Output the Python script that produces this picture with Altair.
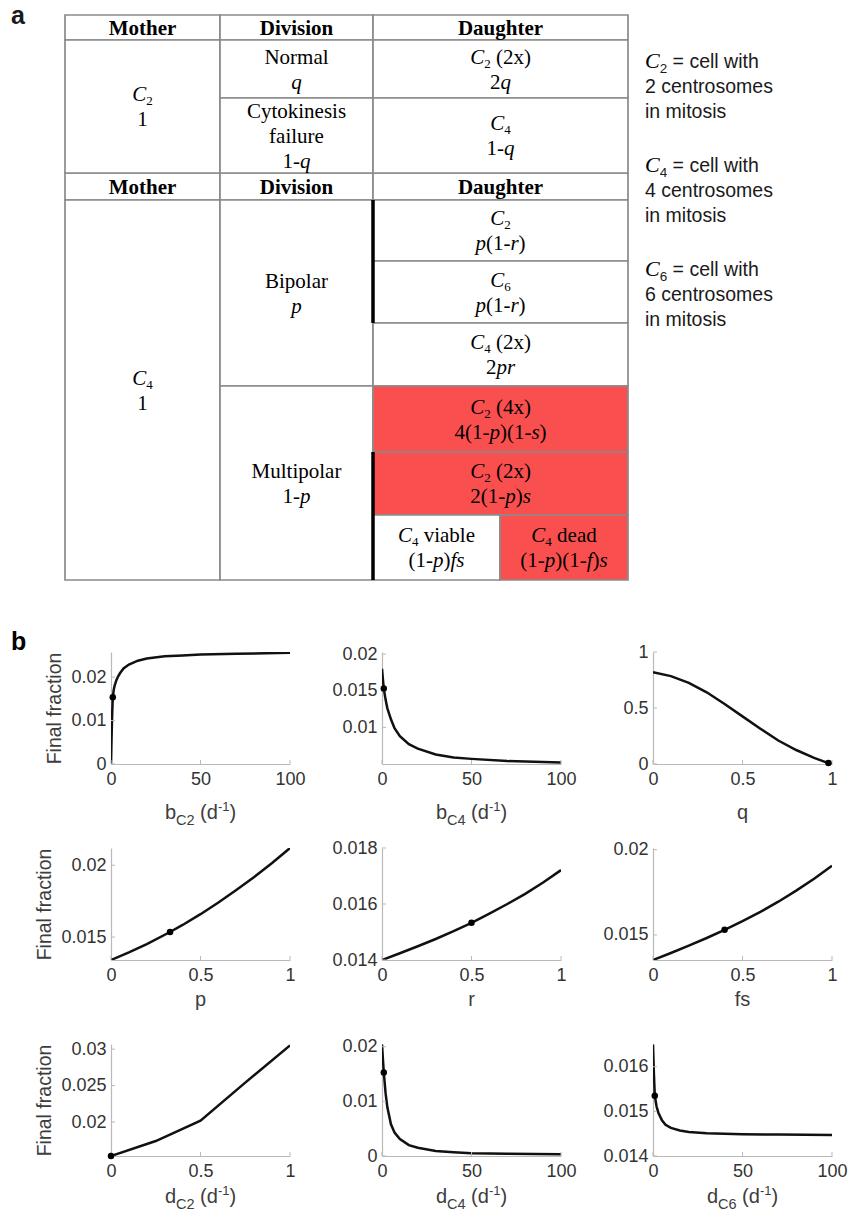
import re
import altair as alt
import pandas as pd

# ---------------- panel b : values ----------------
bc2_x = [0, 0.25, 0.5, 0.75, 1, 1.5, 2, 3, 4, 5, 7, 10, 15, 20, 30, 40, 50, 70, 100]
bc2_y = [0, 0.0050, 0.0092, 0.0126, 0.0153, 0.0170, 0.0180, 0.0193, 0.0202, 0.0209, 0.0220,
         0.0229, 0.0238, 0.0243, 0.0248, 0.0250, 0.0252, 0.0254, 0.0256]

bc4_x = [0, 0.5, 1, 2, 3, 5, 7, 10, 15, 20, 30, 40, 50, 70, 100]
bc4_y = [0.0180, 0.0166, 0.0153, 0.0138, 0.0126, 0.0111, 0.0099, 0.0088, 0.0077, 0.0071,
         0.0063, 0.0059, 0.0057, 0.0054, 0.0052]

q_x = [0, 0.1, 0.2, 0.3, 0.4, 0.5, 0.6, 0.7, 0.8, 0.9, 0.98, 1]
q_y = [0.82, 0.785, 0.725, 0.64, 0.535, 0.425, 0.315, 0.21, 0.125, 0.055, 0.008, 0.0]

p_x = [0, 0.1, 0.2, 0.33, 0.4, 0.5, 0.6, 0.7, 0.8, 0.9, 1]
p_y = [0.01340, 0.01393, 0.01451, 0.01535, 0.01584, 0.01659, 0.01740, 0.01827, 0.01918,
       0.02016, 0.02120]

r_x = [0, 0.1, 0.2, 0.3, 0.4, 0.5, 0.6, 0.7, 0.8, 0.9, 1]
r_y = [0.01400, 0.01424, 0.01449, 0.01475, 0.01503, 0.01533, 0.01566, 0.01600, 0.01636,
       0.01677, 0.01721]

fs_x = [0, 0.1, 0.2, 0.3, 0.4, 0.5, 0.6, 0.7, 0.8, 0.9, 1]
fs_y = [0.01353, 0.01394, 0.01437, 0.01482, 0.01530, 0.01581, 0.01635, 0.01695, 0.01760,
        0.01830, 0.01906]

dc2_x = [0, 0.25, 0.5, 0.75, 1]
dc2_y = [0.01535, 0.0174, 0.0202, 0.0254, 0.0305]

dc4_x = [0, 0.5, 1, 2, 3, 5, 7, 10, 15, 20, 30, 40, 50, 70, 100]
dc4_y = [0.0204, 0.0178, 0.0153, 0.0115, 0.0089, 0.0058, 0.0043, 0.0031, 0.0020, 0.0015,
         0.0009, 0.0007, 0.0005, 0.0004, 0.0003]

dc6_x = [0, 0.5, 1, 2, 3, 5, 7, 10, 15, 20, 30, 50, 70, 100]
dc6_y = [0.01650, 0.01585, 0.01535, 0.01511, 0.01497, 0.01480, 0.01470, 0.01463, 0.01457,
         0.01454, 0.01451, 0.01449, 0.01448, 0.01447]

# default-parameter markers
dot_x = [1, 1, 0.98, 0.33, 0.5, 0.4, 0, 1, 1]
dot_y = [0.01537, 0.0153, 0.008, 0.01535, 0.01533, 0.0153, 0.01535, 0.0153, 0.01535]

curves_x = [bc2_x, bc4_x, q_x, p_x, r_x, fs_x, dc2_x, dc4_x, dc6_x]
curves_y = [bc2_y, bc4_y, q_y, p_y, r_y, fs_y, dc2_y, dc4_y, dc6_y]

x_titles = ["b_C2_ (d^-1^)", "b_C4_ (d^-1^)", "q", "p", "r", "fs",
            "d_C2_ (d^-1^)", "d_C4_ (d^-1^)", "d_C6_ (d^-1^)"]
x_domains = [[0, 100], [0, 100], [0, 1], [0, 1], [0, 1], [0, 1], [0, 1], [0, 100], [0, 100]]
x_ticks = [[0, 50, 100], [0, 50, 100], [0, 0.5, 1], [0, 0.5, 1], [0, 0.5, 1], [0, 0.5, 1],
           [0, 0.5, 1], [0, 50, 100], [0, 50, 100]]
y_domains = [[0, 0.0258], [0.0050, 0.0203], [0, 1], [0.0134, 0.0212], [0.014, 0.018],
             [0.01353, 0.0201], [0.01535, 0.0307], [0, 0.0205], [0.014, 0.01651]]
y_ticks = [[0, 0.01, 0.02], [0.01, 0.015, 0.02], [0, 0.5, 1], [0.015, 0.02],
           [0.014, 0.016, 0.018], [0.015, 0.02], [0.02, 0.025, 0.03], [0, 0.01, 0.02],
           [0.014, 0.015, 0.016]]
y_title = "Final fraction"

# ---------------- panel a : table text ----------------
header_texts = ["#Mother#", "#Division#", "#Daughter#"]
cell_lines = [
    ["*C*_2_", "1"],
    ["Normal", "*q*"],
    ["*C*_2_ (2x)", "2*q*"],
    ["Cytokinesis", "failure", "1-*q*"],
    ["*C*_4_", "1-*q*"],
    ["*C*_4_", "1"],
    ["Bipolar", "*p*"],
    ["*C*_2_", "*p*(1-*r*)"],
    ["*C*_6_", "*p*(1-*r*)"],
    ["*C*_4_ (2x)", "2*pr*"],
    ["Multipolar", "1-*p*"],
    ["*C*_2_ (4x)", "4(1-*p*)(1-*s*)"],
    ["*C*_2_ (2x)", "2(1-*p*)*s*"],
    ["*C*_4_ viable", "(1-*p*)*fs*"],
    ["*C*_4_ dead", "(1-*p*)(1-*f*)*s*"],
]
cell_outcome = ["none", "none", "none", "none", "none", "none", "none", "none", "none",
                "none", "none", "dead", "dead", "none", "dead"]
notes = [["*C*_2_ = cell with", "2 centrosomes", "in mitosis"],
         ["*C*_4_ = cell with", "4 centrosomes", "in mitosis"],
         ["*C*_6_ = cell with", "6 centrosomes", "in mitosis"]]
panel_letters = ["a", "b"]

# ---------------- layout of the table (grid structure) ----------------
PAGE_W, TOP_H = 851, 600
PLOT_LEFT = 111          # page x of the first panel's plot origin (shared concat origin)
col_edges = [65, 220, 373, 500, 628]
row_edges = [15, 40, 98, 173, 200, 261, 323, 386, 452, 515, 580]
# (col0, col1, row0, row1) spans of the cells above
cell_spans = [(0, 1, 1, 3), (1, 2, 1, 2), (2, 4, 1, 2), (1, 2, 2, 3), (2, 4, 2, 3),
              (0, 1, 4, 10), (1, 2, 4, 7), (2, 4, 4, 5), (2, 4, 5, 6), (2, 4, 6, 7),
              (1, 2, 7, 10), (2, 4, 7, 8), (2, 4, 8, 9), (2, 3, 9, 10), (3, 4, 9, 10)]
header_spans = [(0, 1), (1, 2), (2, 4)]
header_rows = [(0, 1), (3, 4)]
thick_spans = [(2, 4, 6), (2, 8, 10)]
LINE_H = 25
NOTE_X = 645
note_first_baseline = [68, 172, 276]

SANS = "Liberation Sans"
SERIF = "Liberation Serif"

TIMES_R = {' ': 250, '(': 333, ')': 333, '-': 333, '=': 564, 'x': 500, 'a': 444, 'b': 500,
           'c': 444, 'd': 500, 'e': 444, 'f': 333, 'i': 278, 'k': 500, 'l': 278, 'm': 778,
           'n': 500, 'o': 500, 'p': 500, 'r': 333, 's': 389, 't': 278, 'u': 500, 'v': 500,
           'y': 500, 'B': 667, 'C': 667, 'M': 889, 'N': 722}
TIMES_I = {'C': 667, 'p': 500, 'q': 500, 'r': 389, 's': 389, 'f': 278}
TIMES_B = {'M': 944, 'o': 500, 't': 333, 'h': 556, 'e': 444, 'r': 444, 'D': 722, 'i': 278,
           'v': 500, 's': 389, 'n': 556, 'a': 500, 'u': 556, 'g': 500}
ARIAL = {' ': 278, '=': 584, '(': 333, ')': 333, '-': 333, 'a': 556, 'b': 556, 'c': 500,
         'd': 556, 'e': 556, 'f': 278, 'h': 556, 'i': 222, 'l': 222, 'm': 833, 'n': 556,
         'o': 556, 'p': 556, 'q': 556, 'r': 333, 's': 500, 't': 278, 'w': 722, 'C': 722}
ARIAL_B = {'a': 556, 'b': 611}
METRICS = {'serif': (TIMES_R, 500), 'serif_i': (TIMES_I, 500), 'serif_b': (TIMES_B, 500),
           'sans': (ARIAL, 556), 'sans_b': (ARIAL_B, 556)}
FAM_PROPS = {'serif': dict(font=SERIF), 'serif_i': dict(font=SERIF, fontStyle='italic'),
             'serif_b': dict(font=SERIF, fontWeight='bold'), 'sans': dict(font=SANS),
             'sans_b': dict(font=SANS, fontWeight='bold')}

TABLE_STYLE = {'rm': ('serif', 21, 0), 'it': ('serif_i', 21, 0), 'sub': ('serif', 13, 4),
               'bd': ('serif_b', 21, 0)}
NOTE_STYLE = {'rm': ('sans', 19.5, 0), 'it': ('serif_i', 22, 0), 'sub': ('sans', 13.5, 5)}
XT_STYLE = {'rm': ('sans', 20, 0), 'sub': ('sans', 14.5, 6), 'sup': ('sans', 13, -8),
            'it': ('sans', 20, 0)}
LETTER_STYLE = {'rm': ('sans_b', 25, 0)}


def parse(s):
    out = []
    for tok in re.split(r'(\*[^*]+\*|_[^_]+_|\^[^^]+\^|#[^#]+#)', s):
        if not tok:
            continue
        kinds = {'*': 'it', '_': 'sub', '^': 'sup', '#': 'bd'}
        if tok[0] in kinds and len(tok) > 1 and tok[-1] == tok[0]:
            out.append((tok[1:-1], kinds[tok[0]]))
        else:
            out.append((tok, 'rm'))
    return out


def seg_width(text, fam, size):
    table, default = METRICS[fam]
    return sum(table.get(ch, default) for ch in text) * size / 1000.0


def layout_line(markup, ax, baseline, style, align='center'):
    items = []
    for txt, kind in parse(markup):
        fam, size, dy = style[kind]
        items.append((txt, fam, size, dy, seg_width(txt, fam, size)))
    total = sum(it[4] for it in items)
    x = ax - total / 2.0 if align == 'center' else ax
    rows = []
    for txt, fam, size, dy, w in items:
        lead = len(txt) - len(txt.lstrip(' '))
        shift = seg_width(' ' * lead, fam, size)
        rows.append({'x': x + shift, 'y': baseline + dy, 'text': txt.strip(),
                     'size': size, 'fam': fam})
        x += w
    return rows


# ---------------- build panel a ----------------
rect_rows, text_rows = [], []
for (r0, r1) in header_rows:
    for (c0, c1), t in zip(header_spans, header_texts):
        rect_rows.append({'x': col_edges[c0], 'x2': col_edges[c1], 'y': row_edges[r0],
                          'y2': row_edges[r1], 'kind': 'none'})
        cx = (col_edges[c0] + col_edges[c1]) / 2
        cy = (row_edges[r0] + row_edges[r1]) / 2
        text_rows += layout_line(t, cx, cy + 7, TABLE_STYLE)

for (c0, c1, r0, r1), lines, kind in zip(cell_spans, cell_lines, cell_outcome):
    rect_rows.append({'x': col_edges[c0], 'x2': col_edges[c1], 'y': row_edges[r0],
                      'y2': row_edges[r1], 'kind': kind})
    cx = (col_edges[c0] + col_edges[c1]) / 2
    cy = (row_edges[r0] + row_edges[r1]) / 2
    n = len(lines)
    for k, line in enumerate(lines):
        center = cy + (k - (n - 1) / 2) * LINE_H
        text_rows += layout_line(line, cx, center + 7, TABLE_STYLE)

for base, group in zip(note_first_baseline, notes):
    for k, line in enumerate(group):
        text_rows += layout_line(line, NOTE_X, base + k * LINE_H, NOTE_STYLE, align='left')

text_rows += layout_line(panel_letters[0], 11, 24, LETTER_STYLE, align='left')

thick_rows = [{'x': col_edges[c], 'y': row_edges[a], 'y2': row_edges[b]} for c, a, b in thick_spans]

TX = alt.Scale(domain=[PLOT_LEFT, PAGE_W], nice=False, zero=False)
TY = alt.Scale(domain=[0, TOP_H], nice=False, reverse=True)

rects = alt.Chart(pd.DataFrame(rect_rows)).mark_rect(stroke='#8a8a8a', strokeWidth=1.7).encode(
    x=alt.X('x:Q', scale=TX, axis=None), x2='x2:Q',
    y=alt.Y('y:Q', scale=TY, axis=None), y2='y2:Q',
    fill=alt.Color('kind:N', scale=alt.Scale(domain=['none', 'dead'], range=['#ffffff', '#fa4f4f']),
                   legend=None))
thick = alt.Chart(pd.DataFrame(thick_rows)).mark_rule(color='black', strokeWidth=3.5).encode(
    x=alt.X('x:Q', scale=TX, axis=None), y=alt.Y('y:Q', scale=TY, axis=None), y2='y2:Q')

layers = [rects, thick]
tdf = pd.DataFrame(text_rows)
for fam, props in FAM_PROPS.items():
    sub = tdf[tdf['fam'] == fam]
    if len(sub) == 0:
        continue
    col = '#1a1a1a' if fam.startswith('sans') else 'black'
    layers.append(alt.Chart(sub).mark_text(align='left', baseline='alphabetic', color=col, **props).encode(
        x=alt.X('x:Q', scale=TX, axis=None), y=alt.Y('y:Q', scale=TY, axis=None),
        text='text:N', size=alt.Size('size:Q', scale=None)))

table = alt.layer(*layers).properties(width=PAGE_W - PLOT_LEFT, height=TOP_H)

# ---------------- build panel b ----------------
PW, PH = 179, 112
AXC = '#b9b9b9'
LABC = '#333333'
TITC = '#3d3d3d'
title_offset = [55, 55, 55, 46, 46, 46, 47, 47, 47]
one = pd.DataFrame({'k': [0]})
LABEL_EXPR = "'' + datum.value"


def panel(i):
    ax_common = dict(grid=False, ticks=False, labelFlush=False, labelOverlap=False,
                     labelFont=SANS, labelFontSize=18, labelColor=LABC, domainColor=AXC,
                     domainWidth=1.2, labelExpr=LABEL_EXPR)
    X = alt.X('x:Q', scale=alt.Scale(domain=x_domains[i], nice=False, zero=False),
              axis=alt.Axis(values=x_ticks[i], labelPadding=6, title=None, **ax_common))
    if i % 3 == 0:
        yaxis = alt.Axis(values=y_ticks[i], labelPadding=5, title=y_title, titleFont=SANS,
                         titleFontSize=19.5, titleFontWeight='normal', titleColor=TITC,
                         titlePadding=6, **ax_common)
    else:
        yaxis = alt.Axis(values=y_ticks[i], labelPadding=5, title=None, **ax_common)
    Y = alt.Y('y:Q', scale=alt.Scale(domain=y_domains[i], nice=False, zero=False), axis=yaxis)

    line = alt.Chart(pd.DataFrame({'x': curves_x[i], 'y': curves_y[i]})).mark_line(
        color='#111111', strokeWidth=2.5, clip=True).encode(x=X, y=Y)
    dot = alt.Chart(pd.DataFrame({'x': [dot_x[i]], 'y': [dot_y[i]]})).mark_circle(
        color='black', size=42, opacity=1).encode(x=X, y=Y)
    xt = alt.Chart(pd.DataFrame({'x': x_ticks[i]})).mark_rule(color=AXC, strokeWidth=1).encode(
        x=X, y=alt.value(PH), y2=alt.value(PH - 4))
    yt = alt.Chart(pd.DataFrame({'y': y_ticks[i]})).mark_rule(color=AXC, strokeWidth=1).encode(
        y=Y, x=alt.value(0), x2=alt.value(4))
    parts = [line, xt, yt, dot]
    for r in layout_line(x_titles[i], PW / 2.0, PH + title_offset[i], XT_STYLE):
        parts.append(alt.Chart(one).mark_text(align='left', baseline='alphabetic', font=SANS,
                                              fontSize=r['size'], color=TITC).encode(
            x=alt.value(r['x']), y=alt.value(r['y']), text=alt.value(r['text'])))
    if i == 0:
        parts.append(alt.Chart(one).mark_text(align='left', baseline='alphabetic', font=SANS,
                                              fontWeight='bold', fontSize=25, color='black').encode(
            x=alt.value(11 - PLOT_LEFT), y=alt.value(-2), text=alt.value(panel_letters[1])))
        # invisible anchor fixing the grid's top-left bound at page (0, TOP_H)
        parts.append(alt.Chart(one).mark_rule(strokeOpacity=0, strokeWidth=1).encode(
            x=alt.value(0.5 - PLOT_LEFT), x2=alt.value(1 - PLOT_LEFT), y=alt.value(-51.5)))
    return alt.layer(*parts).properties(width=PW, height=PH)


grid = alt.concat(*[panel(i) for i in range(9)], columns=3,
                  spacing={'row': 84, 'column': 92}, bounds='flush')

chart = alt.vconcat(table, grid, spacing=0).properties(
    padding=0, background='white').configure_view(stroke=None)

chart.save("out.html", embed_options={"renderer": "svg", "actions": False})
